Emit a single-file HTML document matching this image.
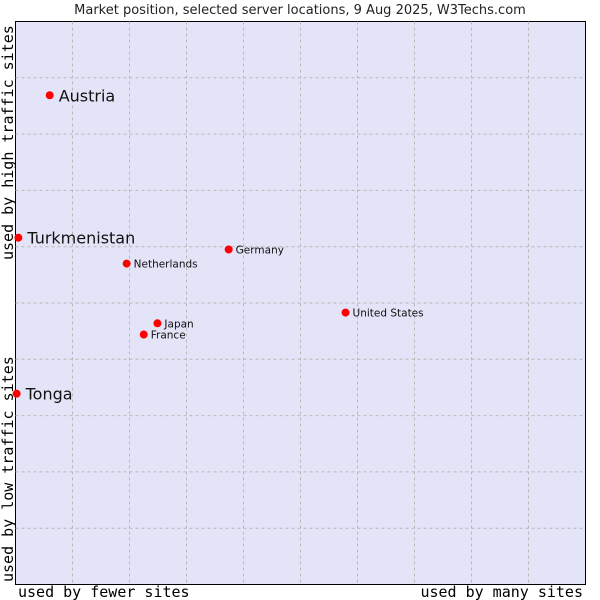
<!DOCTYPE html>
<html><head><meta charset="utf-8"><style>
html,body{margin:0;padding:0;background:#fff;width:600px;height:600px;overflow:hidden}
</style></head><body>
<svg id="chart" width="600" height="600" xmlns="http://www.w3.org/2000/svg">
<text x="300" y="14" text-anchor="middle" font-family="DejaVu Sans, sans-serif" font-size="13" fill="#222">Market position, selected server locations, 9 Aug 2025, W3Techs.com</text>
<rect x="15.5" y="21.5" width="570" height="563" fill="#e3e4f8" stroke="#000" stroke-width="1"/>
<g id="grid"></g>
<g id="points"></g>
<text x="18" y="597" font-family="DejaVu Sans Mono, monospace" font-size="15" fill="#000">used by fewer sites</text>
<text x="583" y="597" text-anchor="end" font-family="DejaVu Sans Mono, monospace" font-size="15" fill="#000">used by many sites</text>
<text transform="translate(13,582) rotate(-90)" font-family="DejaVu Sans Mono, monospace" font-size="15" fill="#000">used by low traffic sites</text>
<text transform="translate(13,260) rotate(-90)" font-family="DejaVu Sans Mono, monospace" font-size="15" fill="#000">used by high traffic sites</text>
</svg>
<script>
const names = ["Austria","Turkmenistan","Tonga","Germany","Netherlands","United States","Japan","France"];
const xVals = [6.0,0.5,0.2,37.4,19.5,57.9,24.9,22.5];
const yVals = [86.9,61.6,33.9,59.5,57.0,48.3,46.4,44.4];
const big = [true,true,true,false,false,false,false,false];
const NS="http://www.w3.org/2000/svg";
const X0=15.5,X1=585.5,Y0=584.5,Y1=21.5;
const sx=v=>X0+v/100*(X1-X0);
const sy=v=>Y0-v/100*(Y0-Y1);
const grid=document.getElementById('grid');
for(let i=1;i<10;i++){
  const v=document.createElementNS(NS,'line');
  
  
  v.setAttribute('x1',sx(i*10));v.setAttribute('x2',sx(i*10));v.setAttribute('y1',Y1);v.setAttribute('y2',Y0);
  v.setAttribute('stroke','#b8b8b8');v.setAttribute('stroke-dasharray','3,3');
  grid.appendChild(v);
  const h=document.createElementNS(NS,'line');
  
  
  h.setAttribute('y1',sy(i*10));h.setAttribute('y2',sy(i*10));h.setAttribute('x1',X0);h.setAttribute('x2',X1);
  h.setAttribute('stroke','#b8b8b8');h.setAttribute('stroke-dasharray','3,3');
  grid.appendChild(h);
}
const pts=document.getElementById('points');
names.forEach((n,i)=>{
  const x=sx(xVals[i]),y=sy(yVals[i]);
  const d=document.createElementNS(NS,'circle');
  
  
  d.setAttribute('cx',x);d.setAttribute('cy',y);d.setAttribute('r',4);
  d.setAttribute('fill','#f00');
  pts.appendChild(d);
  const t=document.createElementNS(NS,'text');
  
  
  t.setAttribute('x',x+(big[i]?9:7));t.setAttribute('y',y+(big[i]?6:4));
  t.setAttribute('font-family','DejaVu Sans, sans-serif');
  t.setAttribute('font-size',big[i]?16:10.5);
  t.setAttribute('fill','#111');
  t.textContent=n;
  pts.appendChild(t);
});
</script>
</body></html>
